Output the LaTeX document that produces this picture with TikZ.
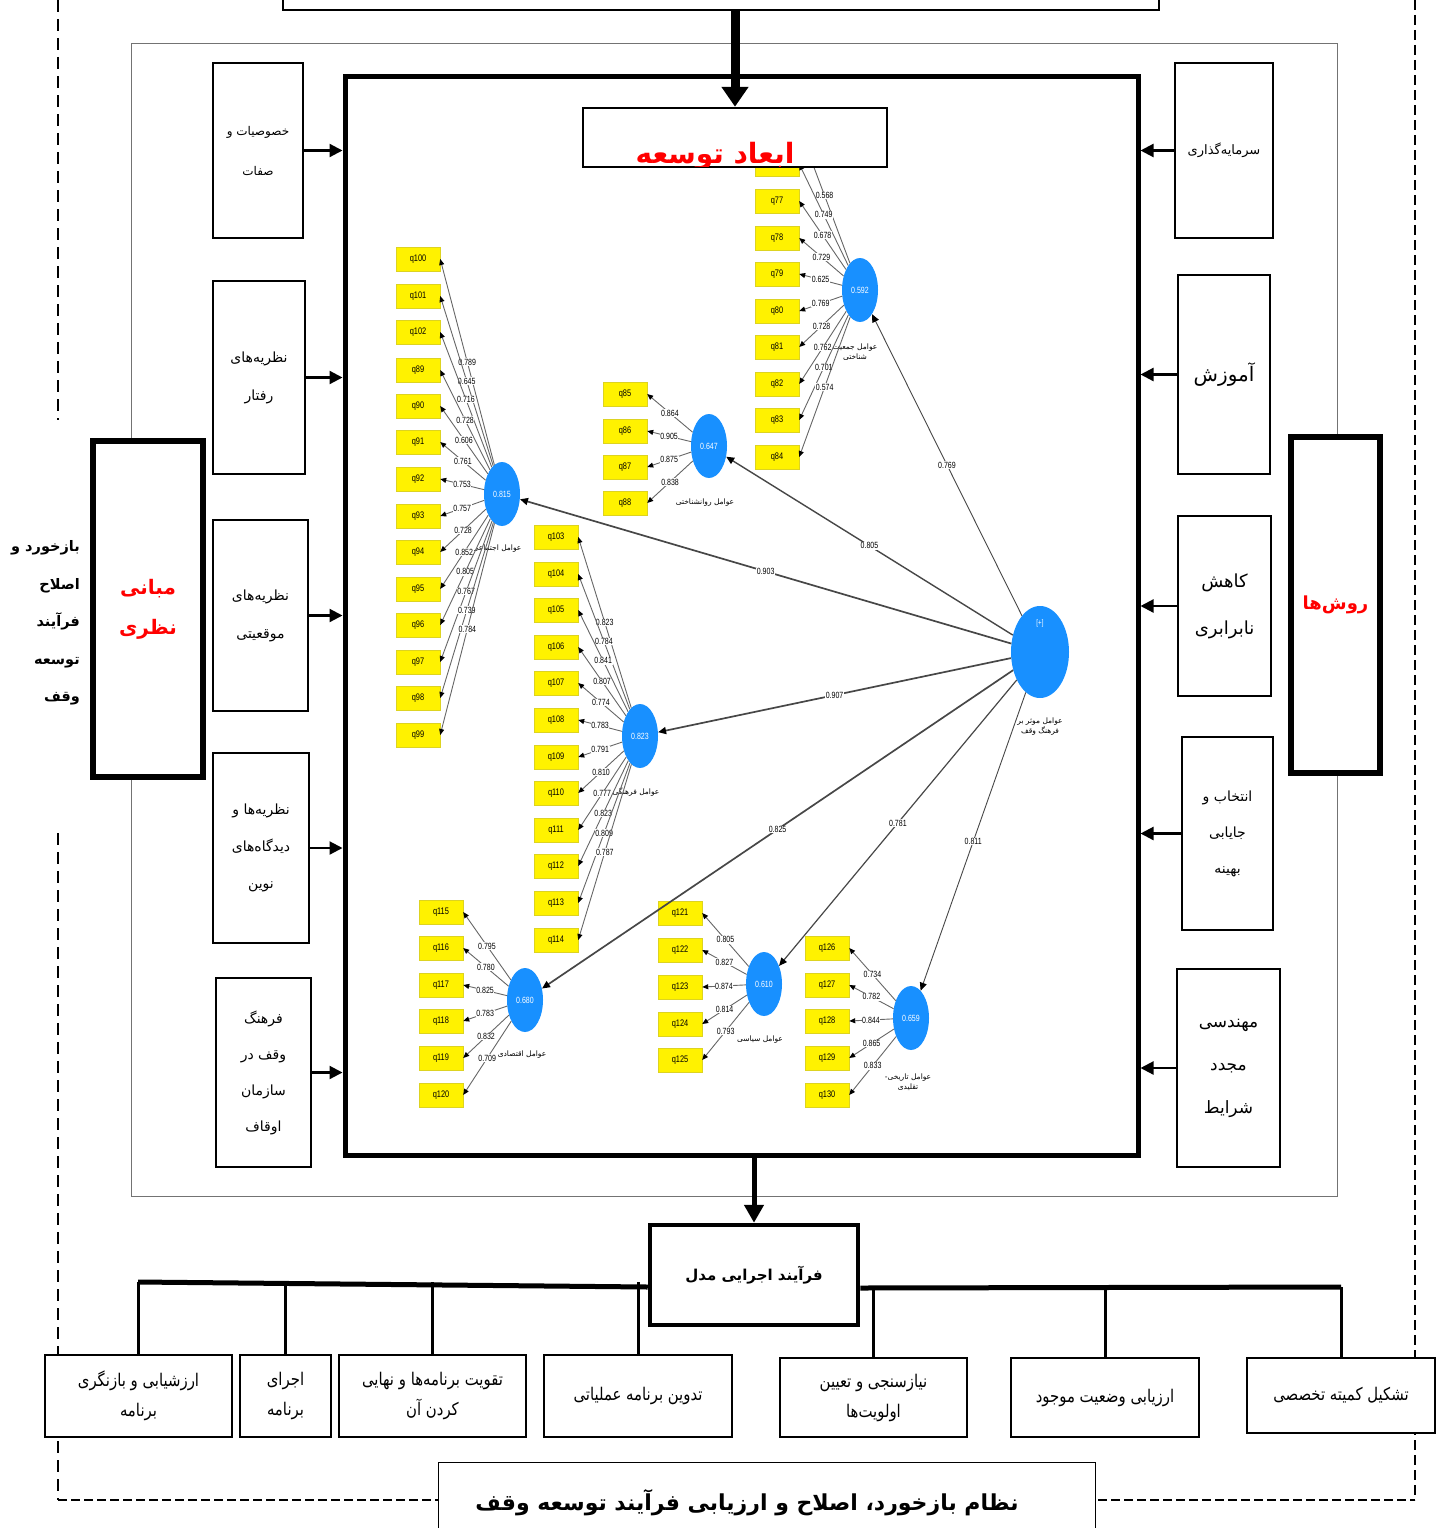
\documentclass[tikz,border=0pt]{standalone}
\usepackage{fontspec}
\usetikzlibrary{arrows.meta,shapes.geometric}
\newfontfamily\fa[Script=Arabic]{DejaVu Sans}
\newfontfamily\fanar[Script=Arabic,FakeStretch=0.85]{DejaVu Sans}
\newfontfamily\numf[FakeStretch=0.78]{Liberation Sans}
\TeXXeTstate=1
\newcommand{\rl}[1]{\beginR #1\endR}
\definecolor{latblue}{RGB}{24,144,255}

\tikzset{
  box/.style={draw,fill=white,line width=2.2pt,inner sep=0pt,align=center},
  heavybox/.style={draw,fill=white,line width=5.5pt,inner sep=0pt,align=center},
  ind/.style={fill=yellow,draw=yellow!85!black,line width=0.4pt,minimum width=44pt,minimum height=24pt,inner sep=0pt,font=\numf\fontsize{9.5}{10}\selectfont},
  lat/.style={ellipse,fill=latblue,minimum width=36pt,minimum height=64pt,inner sep=0pt,text=white,font=\numf\fontsize{9}{10}\selectfont},
  latname/.style={font=\fa\fontsize{7.5}{10}\selectfont,align=center},
  load/.style={draw=black!60,line width=0.9pt,-{Triangle[length=6pt,width=5pt,color=black]}},
  struct/.style={draw=black!72,line width=1.7pt,-{Triangle[length=8pt,width=7pt,color=black]}},
  val/.style={fill=white,inner sep=0.6pt,font=\numf\fontsize{9}{9}\selectfont},
  feed/.style={line width=2.2pt,-{Triangle[length=13pt,width=13pt]}},
  bus/.style={line width=5pt},
  drop/.style={line width=3pt},
  stage/.style={box,font=\fanar\fontsize{17.5}{30}\selectfont},
  loopline/.style={line width=2pt,dash pattern=on 12pt off 7pt}
}

\begin{document}
\begin{tikzpicture}[x=1pt,y=-1pt]
\useasboundingbox (0,0) rectangle (1439,1528);

% feedback loop
\draw[loopline] (58,0) -- (58,420);
\draw[loopline] (58,833) -- (58,1500);
\draw[loopline,dash pattern=on 10pt off 5pt] (1415,0) -- (1415,1500);
\draw[loopline,dash pattern=on 9pt off 4pt] (58,1500) -- (1415,1500);

% frames
\node[draw=black!55,line width=0.8pt,minimum width=1206pt,minimum height=1153pt,inner sep=0pt] (outer) at (734,619.5) {};
\node[draw,line width=2.5pt,minimum width=876pt,minimum height=60pt,inner sep=0pt] (src) at (721,-20) {};
\node[draw,line width=5pt,minimum width=793pt,minimum height=1079pt,inner sep=0pt] (model) at (741.5,615.5) {};

% latent variables
\node[lat] (soc) at (502,494) {0.815};
\node[lat] (dem) at (860,290) {0.592};
\node[lat] (psy) at (709,446) {0.647};
\node[lat] (cul) at (640,736) {0.823};
\node[lat] (eco) at (525,1000) {0.680};
\node[lat] (pol) at (764,984) {0.610};
\node[lat] (his) at (911,1018) {0.659};
\node[lat,minimum width=58pt,minimum height=92pt] (main) at (1040,652) {};
\node[text=white,font=\numf\fontsize{8}{9}\selectfont] (plus) at (1040,623) {[+]};

\node[latname] (socn) at (497,549) {\rl{عوامل اجتماعی}};
\node[latname] (demn) at (855,352) {\rl{عوامل جمعیت}\\\rl{شناختی}};
\node[latname] (psyn) at (705,503) {\rl{عوامل روانشناختی}};
\node[latname] (culn) at (636,792) {\rl{عوامل فرهنگی}};
\node[latname] (econ) at (522,1055) {\rl{عوامل اقتصادی}};
\node[latname] (poln) at (760,1040) {\rl{عوامل سیاسی}};
\node[latname] (hisn) at (908,1082) {\rl{عوامل تاریخی-}\\\rl{تقلیدی}};
\node[latname] (mainn) at (1040,727) {\rl{عوامل موثر بر}\\\rl{فرهنگ وقف}};

% indicators
\foreach \n/\yy/\ld in {100/259/0.789,101/296/0.645,102/332/0.716,89/370/0.728,90/406/0.606,91/442/0.761,92/479/0.753,93/516/0.757,94/552/0.728,95/589/0.852,96/625/0.805,97/662/0.767,98/698/0.739,99/735/0.784}{
  \node[ind] (q\n) at (418,\yy) {q\n};
  \draw[load] (soc) -- node[val] {\ld} (q\n.east);
}
\node[ind] (q75) at (777,128) {};
\draw[load] (dem) -- node[val] {0.568} (q75.east);
\foreach \n/\yy/\ld in {76/164/0.749,77/201/0.678,78/238/0.729,79/274/0.625,80/311/0.769,81/347/0.728,82/384/0.762,83/420/0.701,84/457/0.574}{
  \node[ind] (q\n) at (777,\yy) {q\n};
  \draw[load] (dem) -- node[val] {\ld} (q\n.east);
}
\foreach \n/\yy/\ld in {85/394/0.864,86/431/0.905,87/467/0.875,88/503/0.838}{
  \node[ind] (q\n) at (625,\yy) {q\n};
  \draw[load] (psy) -- node[val] {\ld} (q\n.east);
}
\foreach \n/\yy/\ld in {103/537/0.823,104/574/0.784,105/610/0.841,106/647/0.807,107/683/0.774,108/720/0.783,109/757/0.791,110/793/0.810,111/830/0.777,112/866/0.823,113/903/0.809,114/940/0.787}{
  \node[ind] (q\n) at (556,\yy) {q\n};
  \draw[load] (cul) -- node[val] {\ld} (q\n.east);
}
\foreach \n/\yy/\ld in {115/912/0.795,116/948/0.780,117/985/0.825,118/1021/0.783,119/1058/0.832,120/1095/0.709}{
  \node[ind] (q\n) at (441,\yy) {q\n};
  \draw[load] (eco) -- node[val] {\ld} (q\n.east);
}
\foreach \n/\yy/\ld in {121/913/0.805,122/950/0.827,123/987/0.874,124/1024/0.814,125/1060/0.793}{
  \node[ind] (q\n) at (680,\yy) {q\n};
  \draw[load] (pol) -- node[val] {\ld} (q\n.east);
}
\foreach \n/\yy/\ld in {126/948/0.734,127/985/0.782,128/1021/0.844,129/1058/0.865,130/1095/0.833}{
  \node[ind] (q\n) at (827,\yy) {q\n};
  \draw[load] (his) -- node[val] {\ld} (q\n.east);
}

% structural paths
\draw[struct] (main) -- node[val] {0.903} (soc);
\draw[struct,line width=1.4pt] (main) -- node[val] {0.805} (psy);
\draw[struct,line width=0.9pt] (main) -- node[val] {0.769} (dem);
\draw[struct] (main) -- node[val] {0.907} (cul);
\draw[struct] (main) -- node[val] {0.825} (eco);
\draw[struct,line width=1.2pt] (main) -- node[val] {0.781} (pol);
\draw[struct,line width=0.9pt] (main) -- node[val] {0.811} (his);

% dimensions title
\node[box,line width=2.5pt,minimum width=304pt,minimum height=59pt] (dims) at (735,137.5) {};
\begin{scope}
  \clip ([shift={(1.5,1.5)}]dims.north west) rectangle ([shift={(-1.5,-1.5)}]dims.south east);
  \node[text=red,font=\fa\bfseries\fontsize{28}{30}\selectfont] (dimst) at (715,156) {\rl{ابعاد توسعه}};
\end{scope}
\draw[line width=9pt,-{Triangle[length=20pt,width=26pt]}] (src.south -| dims.north) -- (dims.north);

% theory side
\node[box,minimum width=90pt,minimum height=175pt,font=\fa\fontsize{12}{40}\selectfont] (b1) at (258,150.5) {\rl{خصوصیات و}\\\rl{صفات}};
\node[box,minimum width=92pt,minimum height=193pt,font=\fa\fontsize{14}{38}\selectfont] (b2) at (259,377.5) {\rl{نظریه‌های}\\\rl{رفتار}};
\node[box,minimum width=95pt,minimum height=191pt,font=\fa\fontsize{14}{38}\selectfont] (b3) at (260.5,615.5) {\rl{نظریه‌های}\\\rl{موقعیتی}};
\node[box,minimum width=96pt,minimum height=190pt,font=\fa\fontsize{14}{37}\selectfont] (b4) at (261,848) {\rl{نظریه‌ها و}\\\rl{دیدگاه‌های}\\\rl{نوین}};
\node[box,minimum width=95pt,minimum height=189pt,font=\fa\fontsize{14}{36}\selectfont] (b5) at (263.5,1072.5) {\rl{فرهنگ}\\\rl{وقف در}\\\rl{سازمان}\\\rl{اوقاف}};
\foreach \b in {b1,b2,b3,b4,b5}
  \draw[feed] (\b.east) -- (\b.east -| model.west);
\node[heavybox,minimum width=110pt,minimum height=336pt,text=red,font=\fa\bfseries\fontsize{20}{40}\selectfont] (theory) at (148,609) {\rl{مبانی}\\\rl{نظری}};
\node[anchor=east,align=right,inner sep=0pt,font=\fa\bfseries\fontsize{14.5}{37.5}\selectfont] (fbtext) at (80,623) {\rl{بازخورد و}\\\rl{اصلاح}\\\rl{فرآیند}\\\rl{توسعه}\\\rl{وقف}};

% methods side
\node[box,minimum width=98pt,minimum height=175pt,font=\fa\fontsize{13}{38}\selectfont] (r1) at (1224,150.5) {\rl{سرمایه‌گذاری}};
\node[box,minimum width=92pt,minimum height=199pt,font=\fa\fontsize{20}{40}\selectfont] (r2) at (1224,374.5) {\rl{آموزش}};
\node[box,minimum width=93pt,minimum height=180pt,font=\fa\fontsize{18}{47}\selectfont] (r3) at (1224.5,606) {\rl{کاهش}\\\rl{نابرابری}};
\node[box,minimum width=91pt,minimum height=193pt,font=\fa\fontsize{14}{36}\selectfont] (r4) at (1227.5,833.5) {\rl{انتخاب و}\\\rl{جایابی}\\\rl{بهینه}};
\node[box,minimum width=103pt,minimum height=198pt,font=\fa\fontsize{17}{43}\selectfont] (r5) at (1228.5,1068) {\rl{مهندسی}\\\rl{مجدد}\\\rl{شرایط}};
\foreach \b in {r1,r2,r3,r4,r5}
  \draw[feed] (\b.west) -- (\b.west -| model.east);
\node[heavybox,minimum width=89pt,minimum height=336pt,text=red,font=\fa\bfseries\fontsize{18}{40}\selectfont] (methods) at (1335.5,605) {\rl{روش‌ها}};

% implementation process
\node[box,line width=4.5pt,minimum width=208pt,minimum height=100pt,font=\fa\bfseries\fontsize{15}{30}\selectfont] (proc) at (754,1275) {\rl{فرآیند اجرایی مدل}};
\draw[line width=5pt,-{Triangle[length=18pt,width=19pt]}] (model.south -| proc.north) -- (proc.north);
\coordinate (busL) at (138,1282);
\coordinate (busR) at (1341,1287);
\draw[bus] (busL) -- ([yshift=-12pt]proc.west);
\draw[bus] ([yshift=-13pt]proc.east) -- (busR);

\node[stage,minimum width=187pt,minimum height=82pt] (e1) at (138.5,1396) {\rl{ارزشیابی و بازنگری}\\\rl{برنامه}};
\node[stage,minimum width=91pt,minimum height=82pt] (e2) at (285.5,1396) {\rl{اجرای}\\\rl{برنامه}};
\node[stage,minimum width=187pt,minimum height=82pt] (e3) at (432.5,1396) {\rl{تقویت برنامه‌ها و نهایی}\\\rl{کردن آن}};
\node[stage,minimum width=188pt,minimum height=82pt] (e4) at (638,1396) {\rl{تدوین برنامه عملیاتی}};
\node[stage,minimum width=187pt,minimum height=79pt] (e5) at (873.5,1397.5) {\rl{نیازسنجی و تعیین}\\\rl{اولویت‌ها}};
\node[stage,minimum width=188pt,minimum height=79pt] (e6) at (1105,1397.5) {\rl{ارزیابی وضعیت موجود}};
\node[stage,minimum width=188pt,minimum height=75pt] (e7) at (1341,1395.5) {\rl{تشکیل کمیته تخصصی}};
\foreach \e in {e1,e2,e3,e4}
  \draw[drop] (\e.north |- busL) -- (\e.north);
\foreach \e in {e5,e6,e7}
  \draw[drop] (\e.north |- busR) -- (\e.north);

% feedback system title
\node[draw,fill=white,line width=1pt,minimum width=657pt,minimum height=80pt,inner sep=0pt] (fbsys) at (766.5,1502) {};
\node[font=\fa\bfseries\fontsize{22}{26}\selectfont] (fbsyst) at (747,1503) {\rl{نظام بازخورد، اصلاح و ارزیابی فرآیند توسعه وقف}};
\end{tikzpicture}
\end{document}
